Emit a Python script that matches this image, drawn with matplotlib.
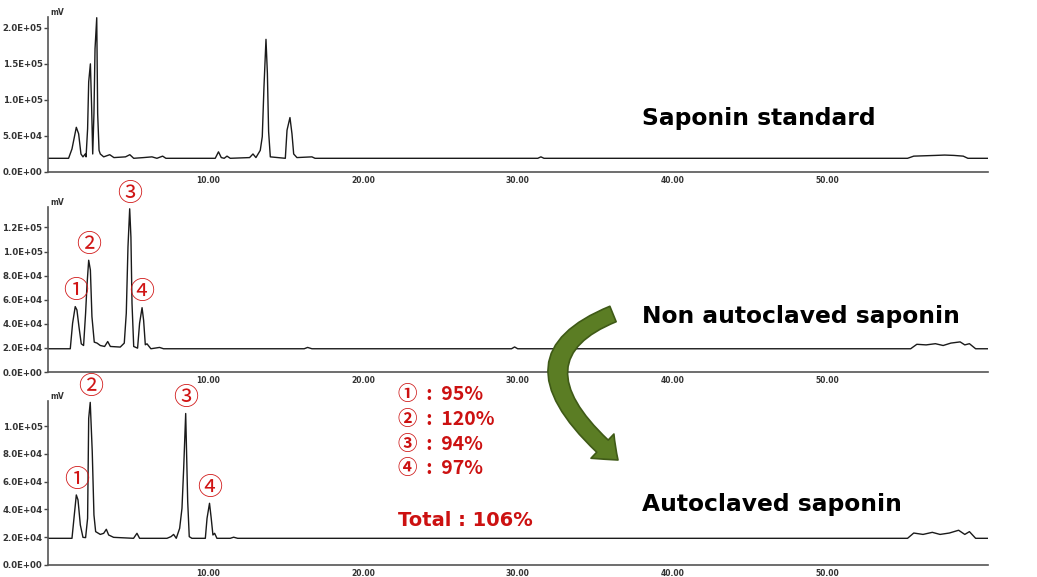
import numpy as np
import matplotlib.pyplot as plt
from matplotlib.patches import FancyArrowPatch
from matplotlib.path import Path
from matplotlib.ticker import FuncFormatter

# --- chromatogram traces (time in min, signal in mV) ---
t_std = [-0.36, 0.97, 1.19, 1.47, 1.62, 1.77, 1.90, 2.05, 2.10, 2.20, 2.27, 2.38, 2.46, 2.53,
         2.61, 2.68, 2.79, 2.85, 2.94, 3.02, 3.24, 3.63, 3.90, 4.65, 4.93, 5.18, 5.82, 6.36,
         6.68, 7.05, 7.26, 10.45, 10.66, 10.84, 11.03, 11.21, 11.42, 12.67, 12.89, 13.08,
         13.36, 13.49, 13.60, 13.73, 13.82, 13.90, 14.01, 14.98, 15.09, 15.28, 15.41, 15.52,
         15.73, 16.70, 16.90, 31.3, 31.5, 31.7, 55.2, 55.6, 56.3, 57.0, 57.6, 58.2, 58.8,
         59.1, 60.4]
y_std = [1.9e4, 1.9e4, 3.2e4, 6.2e4, 5.3e4, 2.5e4, 2.1e4, 2.5e4, 2.1e4, 6.0e4, 1.25e5, 1.5e5,
         9.0e4, 2.5e4, 8.1e4, 1.71e5, 2.14e5, 8.1e4, 3.0e4, 2.5e4, 2.1e4, 2.4e4, 2.0e4, 2.1e4,
         2.4e4, 1.9e4, 2.0e4, 2.1e4, 1.9e4, 2.2e4, 1.9e4, 1.9e4, 2.8e4, 2.0e4, 1.9e4, 2.2e4,
         1.9e4, 2.0e4, 2.5e4, 2.0e4, 3.0e4, 4.9e4, 1.18e5, 1.84e5, 1.37e5, 5.6e4, 2.1e4,
         1.9e4, 5.8e4, 7.55e4, 5.3e4, 2.5e4, 2.0e4, 2.1e4, 1.9e4, 1.9e4, 2.1e4, 1.9e4,
         1.9e4, 2.2e4, 2.25e4, 2.3e4, 2.35e4, 2.3e4, 2.2e4, 1.9e4, 1.9e4]

t_non = [-0.36, 1.08, 1.23, 1.40, 1.51, 1.64, 1.79, 1.94, 2.07, 2.16, 2.27, 2.38, 2.48, 2.63,
         2.81, 3.02, 3.30, 3.50, 3.67, 4.31, 4.57, 4.70, 4.81, 4.92, 5.00, 5.07, 5.18, 5.43,
         5.56, 5.72, 5.82, 5.93, 6.04, 6.29, 6.85, 7.11, 16.2, 16.42, 16.7, 29.6, 29.8, 30.0,
         55.4, 55.8, 56.4, 57.0, 57.5, 58.0, 58.6, 58.9, 59.2, 59.6, 60.4]
y_non = [1.93e4, 1.93e4, 4.05e4, 5.43e4, 5.15e4, 3.77e4, 2.34e4, 2.2e4, 4.88e4, 7.2e4, 9.28e4,
         8.46e4, 4.6e4, 2.48e4, 2.4e4, 2.2e4, 2.12e4, 2.53e4, 2.12e4, 2.07e4, 2.4e4, 4.88e4,
         1.04e5, 1.355e5, 1.12e5, 5.7e4, 2.12e4, 1.98e4, 4.05e4, 5.34e4, 4.3e4, 2.26e4,
         2.34e4, 1.93e4, 2.04e4, 1.93e4, 1.93e4, 2.04e4, 1.93e4, 1.93e4, 2.08e4, 1.93e4,
         1.93e4, 2.3e4, 2.25e4, 2.35e4, 2.2e4, 2.4e4, 2.5e4, 2.25e4, 2.35e4, 1.93e4, 1.93e4]

t_auto = [-0.36, 1.19, 1.34, 1.47, 1.58, 1.73, 1.90, 2.07, 2.20, 2.27, 2.37, 2.50, 2.61, 2.72,
          3.02, 3.24, 3.41, 3.56, 3.88, 5.17, 5.39, 5.56, 7.33, 7.59, 7.76, 7.93, 8.15, 8.30,
          8.41, 8.54, 8.67, 8.77, 8.94, 9.81, 9.92, 10.08, 10.19, 10.30, 10.41, 10.56, 11.42,
          11.64, 11.90, 55.2, 55.6, 56.2, 56.8, 57.3, 57.9, 58.5, 58.9, 59.2, 59.6, 60.4]
y_auto = [1.92e4, 1.92e4, 3.6e4, 5.04e4, 4.68e4, 2.88e4, 1.99e4, 1.97e4, 3.36e4, 1.055e5,
          1.17e5, 8.15e4, 3.6e4, 2.4e4, 2.2e4, 2.28e4, 2.57e4, 2.16e4, 1.99e4, 1.92e4,
          2.28e4, 1.92e4, 1.92e4, 2.04e4, 2.2e4, 1.92e4, 2.64e4, 4.08e4, 6.95e4, 1.09e5,
          4.56e4, 2.04e4, 1.92e4, 1.92e4, 3.36e4, 4.44e4, 3.36e4, 2.16e4, 2.28e4, 1.92e4,
          1.92e4, 2.0e4, 1.92e4, 1.92e4, 2.3e4, 2.2e4, 2.35e4, 2.2e4, 2.3e4, 2.5e4, 2.2e4,
          2.4e4, 1.92e4, 1.92e4]

# peak labels (apex positions) for the two sample runs
peak_marks = ['\u2460', '\u2461', '\u2462', '\u2463']
peak_t_non = [1.40, 2.27, 4.92, 5.72]
peak_y_non = [5.43e4, 9.28e4, 1.355e5, 5.34e4]
peak_t_auto = [1.47, 2.37, 8.54, 10.08]
peak_y_auto = [5.04e4, 1.17e5, 1.09e5, 4.44e4]

recovery = [95, 120, 94, 97]
total_recovery = 106

x_ticks = [10, 20, 30, 40, 50]
titles = ['Saponin standard', 'Non autoclaved saponin', 'Autoclaved saponin']
y_ticks = [[0, 5e4, 1e5, 1.5e5, 2e5],
           [0, 2e4, 4e4, 6e4, 8e4, 1e5, 1.2e5],
           [0, 2e4, 4e4, 6e4, 8e4, 1e5]]
y_tops = [2.15e5, 1.37e5, 1.18e5]

W, H = 1037, 577
fig = plt.figure(figsize=(W / 100, H / 100), dpi=100)

# axes boxes in pixels: (top, bottom)
boxes = [(17, 172), (207, 372), (401, 565)]
traces = [(t_std, y_std), (t_non, y_non), (t_auto, y_auto)]
axes = []
for (top, bot), (tt, yy), yt, ymax in zip(boxes, traces, y_ticks, y_tops):
    ax = fig.add_axes([48 / W, 1 - bot / H, 940 / W, (bot - top) / H])
    ax.plot(tt, yy, color='#1a1a1a', lw=1.0)
    ax.set_xlim(-0.36, 60.4)
    ax.set_ylim(0, ymax)
    ax.set_xticks(x_ticks)
    ax.set_yticks(yt)
    ax.xaxis.set_major_formatter(FuncFormatter(lambda v, p: f'{v:.2f}'))
    ax.yaxis.set_major_formatter(FuncFormatter(lambda v, p: f'{v:.1E}'))
    ax.tick_params(axis='x', length=0, pad=3, labelsize=5.5, labelcolor='#333333')
    ax.tick_params(axis='y', length=3, width=1, pad=1, labelsize=6.2,
                   labelcolor='#333333', color='#444444')
    for lab in ax.get_xticklabels() + ax.get_yticklabels():
        lab.set_fontweight('bold')
    for s in ['top', 'right']:
        ax.spines[s].set_visible(False)
    for s in ['left', 'bottom']:
        ax.spines[s].set_color('#555555')
        ax.spines[s].set_linewidth(1.2)
    ax.text(0.002, 1.0, 'mV', transform=ax.transAxes, ha='left', va='bottom',
            fontsize=5.5, fontweight='bold', color='#333333')
    axes.append(ax)

cjk = ['Noto Sans CJK JP', 'DejaVu Sans']
for ax, pt, py in [(axes[1], peak_t_non, peak_y_non), (axes[2], peak_t_auto, peak_y_auto)]:
    for m, t0, y0 in zip(peak_marks, pt, py):
        ax.annotate(m, xy=(t0, y0), xytext=(0, 11), textcoords='offset points',
                    ha='center', va='center', fontsize=18, color='#d01515',
                    family=cjk)

# overlay in pixel coordinates for the slide annotations
ov = fig.add_axes([0, 0, 1, 1], facecolor='none')
ov.set_xlim(0, W)
ov.set_ylim(H, 0)
ov.axis('off')

for title, ty in zip(titles, [118, 317, 505]):
    ov.text(642, ty, title, ha='left', va='center', fontsize=16.8, fontweight='bold',
            color='black')

for i, (m, r) in enumerate(zip(peak_marks, recovery)):
    ov.text(398, 395 + i * 24.5, f'{m}  :  {r}%', ha='left', va='center', fontsize=14,
            fontweight='bold', color='#cc1111', family=cjk)
ov.text(398, 520, f'Total : {total_recovery}%', ha='left', va='center', fontsize=14,
        fontweight='bold', color='#cc1111')

arc = Path([(613, 314), (500, 360), (618, 460)], [Path.MOVETO, Path.CURVE3, Path.CURVE3])
arrow = FancyArrowPatch(path=arc, arrowstyle='simple,head_length=1.5,head_width=2.4,tail_width=1.2',
                        mutation_scale=10, facecolor='#5b7d24', edgecolor='#3f5a17', lw=1.2,
                        transform=ov.transData, zorder=5)
ov.add_patch(arrow)

plt.savefig('out.png', dpi=100)
